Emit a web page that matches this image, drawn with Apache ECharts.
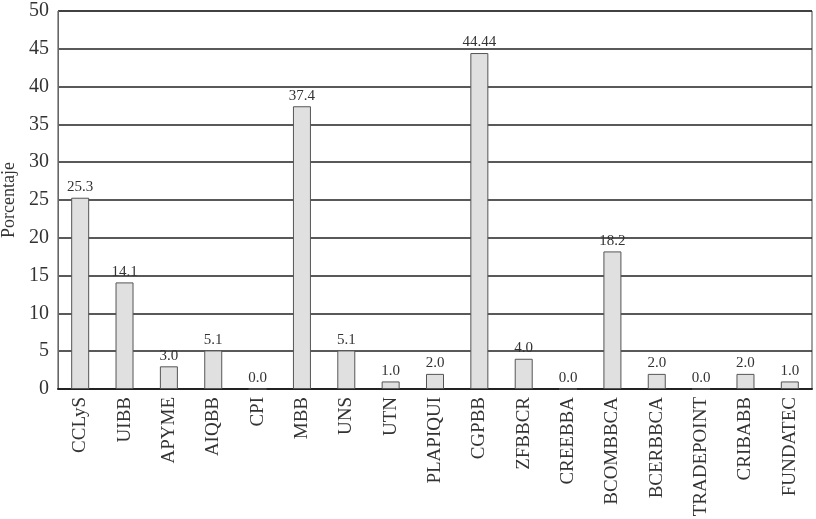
<!DOCTYPE html>
<html>
<head>
<meta charset="utf-8">
<script src="https://cdn.jsdelivr.net/npm/echarts@6/dist/echarts.min.js"></script>
<style>
  html, body { margin: 0; padding: 0; background: #fff; }
  #chart { width: 816px; height: 519px; }
</style>
</head>
<body>
<div id="chart"></div>
<script>
// categories and values
const categories = ['CCLyS', 'UIBB', 'APYME', 'AIQBB', 'CPI', 'MBB', 'UNS', 'UTN', 'PLAPIQUI',
  'CGPBB', 'ZFBBCR', 'CREEBBA', 'BCOMBBCA', 'BCERBBCA', 'TRADEPOINT', 'CRIBABB', 'FUNDATEC'];
const porcentaje = [25.3, 14.1, 3.0, 5.1, 0.0, 37.4, 5.1, 1.0, 2.0, 44.44, 4.0, 0.0, 18.2, 2.0, 0.0, 2.0, 1.0];
const valueLabels = ['25.3', '14.1', '3.0', '5.1', '0.0', '37.4', '5.1', '1.0', '2.0', '44.44', '4.0', '0.0',
  '18.2', '2.0', '0.0', '2.0', '1.0'];

const serif = '"Liberation Serif", "DejaVu Serif", serif';

const chart = echarts.init(document.getElementById('chart'));
chart.setOption({
  animation: false,
  grid: {
    left: 58, right: 4, top: 11, bottom: 130,
    outerBoundsMode: 'none',
    containLabel: false,
    show: true, borderColor: '#444', borderWidth: 1
  },
  xAxis: {
    type: 'category',
    data: categories,
    axisLine: { lineStyle: { color: '#222', width: 2 } },
    axisTick: { show: false },
    axisLabel: {
      rotate: 90, margin: 8, interval: 0,
      fontFamily: serif, fontSize: 19, color: '#333'
    }
  },
  yAxis: {
    type: 'value',
    min: 0, max: 50, interval: 5,
    name: 'Porcentaje',
    nameLocation: 'middle',
    nameGap: 38,
    nameTextStyle: { fontFamily: serif, fontSize: 18, color: '#333' },
    axisLine: { show: true, lineStyle: { color: '#666', width: 1 } },
    axisTick: { show: false },
    axisLabel: { fontFamily: serif, fontSize: 20, color: '#333', margin: 9 },
    splitLine: { lineStyle: { color: '#222', width: 1.5 } }
  },
  series: [{
    type: 'bar',
    data: porcentaje,
    barWidth: 18,
    itemStyle: { color: '#e0e0e0', borderColor: '#555', borderWidth: 1 },
    label: {
      show: true, position: 'top', distance: 3,
      fontFamily: serif, fontSize: 15, color: '#333',
      formatter: p => valueLabels[p.dataIndex]
    }
  }]
});
</script>
</body>
</html>
